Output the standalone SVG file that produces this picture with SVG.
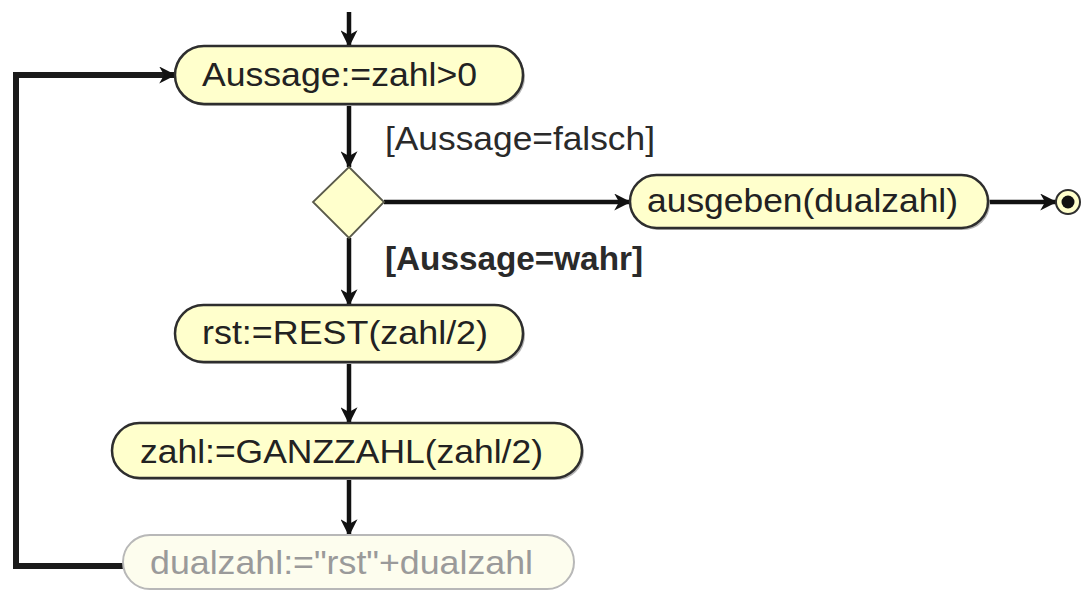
<svg xmlns="http://www.w3.org/2000/svg" width="1081" height="590" viewBox="0 0 1081 590">
  <style>
    .node { fill: #ffffcc; stroke: #2e2e2e; stroke-width: 2.5; }
    .shadow { fill: #b4b4b4; }
    .faded { fill: #fdfdee; stroke: #b8b8b8; stroke-width: 2; }
    .decision { fill: #ffffcc; stroke: #5a5a4a; stroke-width: 1.8; }
    .label { font-family: "Liberation Sans", Arial, sans-serif; font-size: 34px; fill: #222; }
    .faded-label { font-family: "Liberation Sans", Arial, sans-serif; font-size: 34px; fill: #9a9a9a; }
    .guard { font-family: "Liberation Sans", Arial, sans-serif; font-size: 33px; fill: #2a2a2a; }
    .edge { fill: none; stroke: #111; stroke-width: 4.5; }
    .loop { fill: none; stroke: #1a1a1a; stroke-width: 6; }
  </style>
  <defs>
    <marker id="arrowBig" viewBox="0 0 14 14" refX="13" refY="7" markerWidth="17" markerHeight="17" markerUnits="userSpaceOnUse" orient="auto">
      <path d="M0,0 L14,7 L0,14 L4,7 Z" fill="#111"/>
    </marker>
  </defs>

  <!-- control flow -->
  <g id="connectors">
    <path class="edge" d="M349,12 V46" marker-end="url(#arrowBig)"/>
    <path class="edge" d="M349,104 V167" marker-end="url(#arrowBig)"/>
    <path class="edge" d="M384,202 H630" marker-end="url(#arrowBig)"/>
    <path class="edge" d="M988,202 H1056" marker-end="url(#arrowBig)"/>
    <path class="edge" d="M349,238 V305" marker-end="url(#arrowBig)"/>
    <path class="edge" d="M349,362 V423" marker-end="url(#arrowBig)"/>
    <path class="edge" d="M349,478 V535" marker-end="url(#arrowBig)"/>
    <path class="loop" d="M123,566 H16 V75 H175" marker-end="url(#arrowBig)"/>
    <text class="guard" x="385" y="150" textLength="270" lengthAdjust="spacingAndGlyphs">[Aussage=falsch]</text>
    <text class="guard" x="385" y="270" textLength="258" lengthAdjust="spacingAndGlyphs" font-weight="bold">[Aussage=wahr]</text>
  </g>

  <g id="aussage">
    <rect class="shadow" x="177" y="48" width="348" height="58" rx="29"/>
    <rect class="node" x="175" y="46" width="348" height="58" rx="29"/>
    <text class="label" x="202" y="86" textLength="275" lengthAdjust="spacingAndGlyphs">Aussage:=zahl&gt;0</text>
  </g>

  <g id="decision">
    <polygon class="decision" points="349,167 384,202 349,238 313,202"/>
  </g>

  <g id="ausgeben">
    <rect class="shadow" x="632" y="177" width="358" height="53" rx="26.5"/>
    <rect class="node" x="630" y="175" width="358" height="53" rx="26.5"/>
    <text class="label" x="647" y="212" textLength="311" lengthAdjust="spacingAndGlyphs">ausgeben(dualzahl)</text>
  </g>

  <g id="end">
    <circle cx="1068" cy="202" r="12" fill="#ffffcc" stroke="#2e2e2e" stroke-width="2"/>
    <circle cx="1068" cy="202" r="6.5" fill="#111"/>
  </g>

  <g id="rest">
    <rect class="shadow" x="177" y="307" width="348" height="57" rx="28.5"/>
    <rect class="node" x="175" y="305" width="348" height="57" rx="28.5"/>
    <text class="label" x="202" y="344" textLength="286" lengthAdjust="spacingAndGlyphs">rst:=REST(zahl/2)</text>
  </g>

  <g id="ganzzahl">
    <rect class="shadow" x="114" y="425" width="470" height="55" rx="27.5"/>
    <rect class="node" x="112" y="423" width="470" height="55" rx="27.5"/>
    <text class="label" x="140" y="463" textLength="403" lengthAdjust="spacingAndGlyphs">zahl:=GANZZAHL(zahl/2)</text>
  </g>

  <g id="dualzahl">
    <rect class="faded" x="123" y="535" width="451" height="54" rx="27"/>
    <text class="faded-label" x="150" y="574" textLength="383" lengthAdjust="spacingAndGlyphs">dualzahl:="rst"+dualzahl</text>
  </g>
</svg>
